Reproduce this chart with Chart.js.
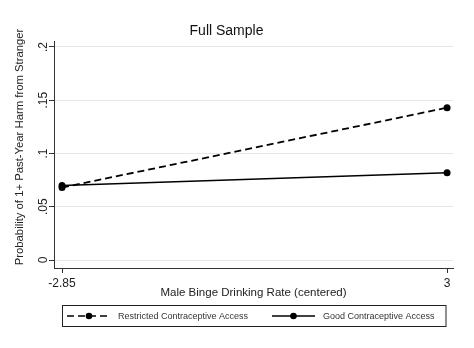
<!DOCTYPE html>
<html>
<head>
<meta charset="utf-8">
<script src="https://cdn.jsdelivr.net/npm/chart.js@4"></script>
<style>
  html, body { margin: 0; padding: 0; background: #fff; }
  #wrap { width: 474px; height: 348px; }
</style>
</head>
<body>
<div id="wrap"><canvas id="chart" width="474" height="348"></canvas></div>
<script>
var xValues = [-2.85, 3]
var restricted = [0.068, 0.143]
var good = [0.070, 0.082]
var xTicks = [-2.85, 3]
var yTicks = [0, 0.05, 0.1, 0.15, 0.2]
var seriesNames = ['Restricted Contraceptive Access', 'Good Contraceptive Access']

var FONT = "'Liberation Sans', Arial, sans-serif"

function pts(ys) {
  return xValues.map(function (x, i) { return {x: x, y: ys[i]} })
}

// y title + boxed legend drawn by hand, stata style
var extras = {
  id: 'extras',
  beforeDraw: function (chart) {
    var ctx = chart.ctx
    ctx.save()
    ctx.fillStyle = '#fff'
    ctx.fillRect(0, 0, chart.width, chart.height)
    ctx.restore()
  },
  afterDraw: function (chart) {
    var ctx = chart.ctx
    ctx.save()
    ctx.fillStyle = '#222'
    ctx.font = '11.3px ' + FONT
    ctx.textAlign = 'center'
    ctx.textBaseline = 'middle'
    ctx.translate(20, 147)
    ctx.rotate(-Math.PI / 2)
    ctx.fillText('Probability of 1+ Past-Year Harm from Stranger', 0, 0)
    ctx.restore()

    // legend box
    var bx = 62.5, by = 305.5, bw = 383.5, bh = 21
    ctx.save()
    ctx.strokeStyle = '#222'
    ctx.lineWidth = 1
    ctx.strokeRect(bx, by, bw, bh)
    var cy = by + bh / 2
    var items = [{x0: 67, x1: 111, tx: 118}, {x0: 272, x1: 315, tx: 323}]
    chart.data.datasets.forEach(function (ds, i) {
      var it = items[i]
      ctx.strokeStyle = '#000'
      ctx.lineWidth = 1.6
      ctx.setLineDash(ds.borderDash || [])
      ctx.beginPath()
      ctx.moveTo(it.x0, cy)
      ctx.lineTo(it.x1, cy)
      ctx.stroke()
      ctx.setLineDash([])
      ctx.fillStyle = '#000'
      ctx.beginPath()
      ctx.arc((it.x0 + it.x1) / 2, cy, 3.3, 0, Math.PI * 2)
      ctx.fill()
      ctx.fillStyle = '#333'
      ctx.font = '9px ' + FONT
      ctx.textAlign = 'left'
      ctx.textBaseline = 'middle'
      ctx.fillText(ds.label, it.tx, cy + 0.5)
    })
    ctx.restore()
  }
}

new Chart(document.getElementById('chart'), {
  type: 'line',
  data: {
    datasets: [{
      label: seriesNames[0],
      data: pts(restricted),
      borderColor: '#000',
      backgroundColor: '#000',
      borderWidth: 1.8,
      borderDash: [7, 4],
      pointRadius: 3.5,
      pointBackgroundColor: '#000',
      pointBorderWidth: 0,
      tension: 0
    }, {
      label: seriesNames[1],
      data: pts(good),
      borderColor: '#000',
      backgroundColor: '#000',
      borderWidth: 1.5,
      pointRadius: 3.5,
      pointBackgroundColor: '#000',
      pointBorderWidth: 0,
      tension: 0
    }]
  },
  options: {
    responsive: false,
    animation: false,
    layout: { padding: { left: 0, right: 21, top: 0, bottom: 0 } },
    plugins: {
      legend: { display: false },
      tooltip: { enabled: false },
      title: {
        display: true,
        text: 'Full Sample',
        color: '#111',
        font: { family: FONT, size: 14, weight: 'normal' },
        padding: { top: 22.6, bottom: 1.6 }
      }
    },
    scales: {
      x: {
        type: 'linear',
        min: -2.972,
        max: 3.09,
        afterBuildTicks: function (s) { s.ticks = xTicks.map(function (v) { return {value: v} }) },
        afterFit: function (s) { s.height = 80 },
        ticks: {
          color: '#222',
          font: { family: FONT, size: 12 },
          padding: 3,
          maxRotation: 0,
          callback: function (v) { return String(v) }
        },
        grid: { drawOnChartArea: false, drawTicks: true, tickLength: 5, tickColor: '#333' },
        border: { display: true, color: '#333', width: 1 },
        title: {
          display: true,
          text: 'Male Binge Drinking Rate (centered)',
          color: '#222',
          font: { family: FONT, size: 11.5 },
          padding: { top: 0, bottom: 48 }
        }
      },
      y: {
        min: -0.0075,
        max: 0.2056,
        afterBuildTicks: function (s) { s.ticks = yTicks.map(function (v) { return {value: v} }) },
        afterFit: function (s) { s.width = 54 },
        ticks: {
          color: '#222',
          font: { family: FONT, size: 12 },
          minRotation: 90,
          maxRotation: 90,
          crossAlign: 'center',
          padding: -3,
          callback: function (v) { return v === 0 ? '0' : String(v).replace(/^0/, '') }
        },
        grid: { color: '#e8e8e8', lineWidth: 1, drawTicks: true, tickLength: 5, tickColor: '#333' },
        border: { display: true, color: '#333', width: 1 }
      }
    }
  },
  plugins: [extras]
})
</script>
</body>
</html>
